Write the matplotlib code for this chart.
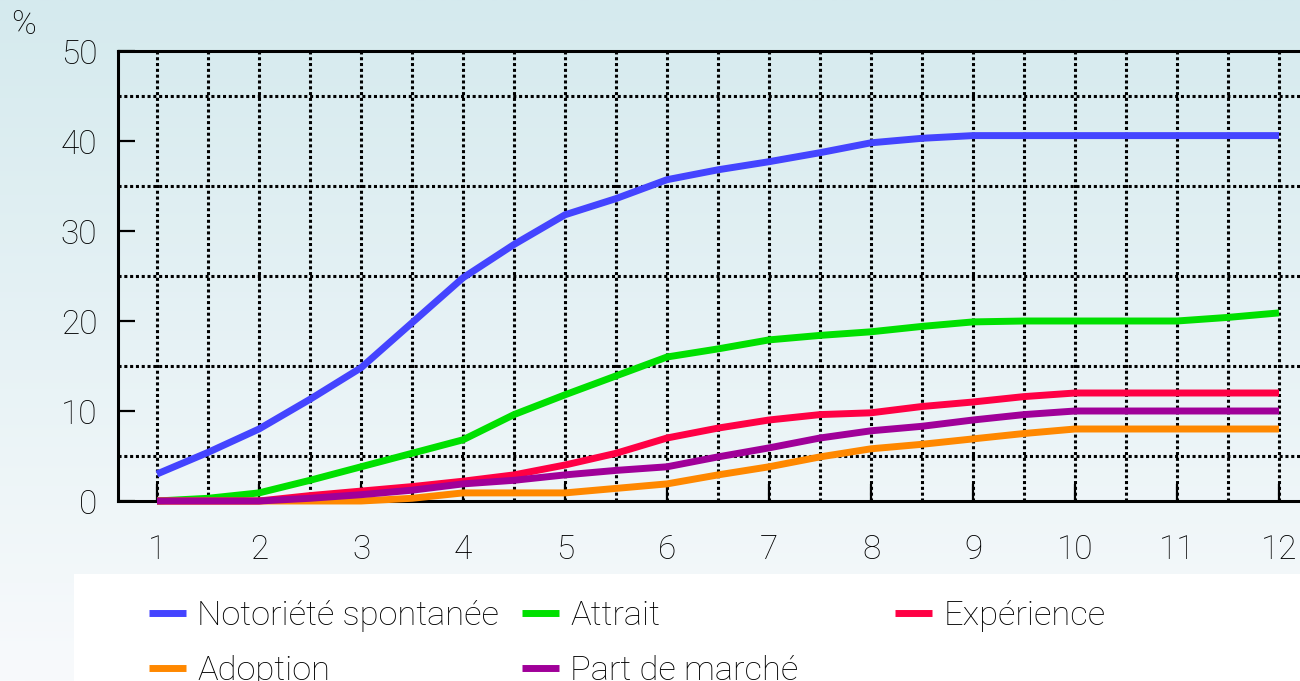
import numpy as np
import matplotlib.pyplot as plt
from matplotlib.patches import Rectangle

plt.rcParams['font.family'] = ['Roboto', 'DejaVu Sans']
plt.rcParams['font.weight'] = 'light'

# mois 1 à 12, relevés tous les demi-mois
mois = [1, 1.5, 2, 2.5, 3, 3.5, 4, 4.5, 5, 5.5, 6, 6.5, 7, 7.5, 8, 8.5,
        9, 9.5, 10, 10.5, 11, 11.5, 12]

notoriete = [3.0, 5.4, 8.0, 11.3, 14.8, 19.8, 24.8, 28.5, 31.8, 33.6, 35.7, 36.8,
             37.7, 38.7, 39.8, 40.3, 40.6, 40.6, 40.6, 40.6, 40.6, 40.6, 40.6]
attrait = [0.0, 0.3, 0.9, 2.3, 3.8, 5.3, 6.8, 9.6, 11.8, 13.9, 16.0, 16.9,
           17.9, 18.4, 18.8, 19.4, 19.9, 20.0, 20.0, 20.0, 20.0, 20.4, 20.9]
experience = [0.0, 0.0, 0.0, 0.6, 1.1, 1.6, 2.2, 2.9, 4.0, 5.3, 7.0, 8.1,
              9.0, 9.6, 9.8, 10.5, 11.0, 11.6, 12.0, 12.0, 12.0, 12.0, 12.0]
adoption = [0.0, 0.0, 0.0, 0.0, 0.0, 0.3, 0.9, 0.9, 0.9, 1.4, 1.9, 2.9,
            3.8, 4.9, 5.8, 6.3, 6.9, 7.5, 8.0, 8.0, 8.0, 8.0, 8.0]
part_marche = [0.0, 0.0, 0.0, 0.3, 0.7, 1.2, 1.9, 2.3, 2.9, 3.4, 3.8, 4.9,
               5.9, 7.0, 7.8, 8.3, 9.0, 9.6, 10.0, 10.0, 10.0, 10.0, 10.0]

series = [
    ('Notoriété spontanée', notoriete, '#4444ff'),
    ('Attrait', attrait, '#00e000'),
    ('Expérience', experience, '#ff0044'),
    ('Adoption', adoption, '#ff8800'),
    ('Part de marché', part_marche, '#a00099'),
]

fig = plt.figure(figsize=(13, 6.81), dpi=100)

# fond en dégradé
bg = fig.add_axes([0, 0, 1, 1], zorder=-2)
grad = np.linspace(0, 1, 256).reshape(-1, 1)
top = np.array([213, 234, 238]) / 255
bottom = np.array([248, 250, 252]) / 255
img = top + (bottom - top) * grad[:, :, None]
bg.imshow(img, aspect='auto', extent=[0, 1, 0, 1])
bg.axis('off')

# cadre blanc de la légende
fig.patches.append(Rectangle((74 / 1300, 0), 1, 1 - 574 / 681,
                             transform=fig.transFigure, facecolor='white',
                             edgecolor='none', zorder=-1))

ax = fig.add_axes([118 / 1300, 1 - 501 / 681, 1 - 118 / 1300, 450 / 681])
ax.set_facecolor('none')

lines = {}
for label, vals, color in series:
    ln, = ax.plot(mois, vals, color=color, lw=5, solid_capstyle='butt',
                  clip_on=False, zorder=3, label=label)
    lines[label] = ln

ax.set_xlim(1 - 39 / 102, 12 + 21 / 102)
ax.set_ylim(0, 50)

ax.set_xticks(range(1, 13))
ax.set_xticks(np.arange(1.5, 12, 1), minor=True)
ax.set_yticks(range(0, 51, 10))
ax.set_yticks(range(5, 50, 10), minor=True)

ax.tick_params(axis='both', which='major', direction='in', length=12,
               width=1.6, color='black', labelsize=24)
ax.tick_params(axis='x', which='major', pad=24)
ax.tick_params(axis='y', which='major', pad=15)
ax.tick_params(which='minor', length=0)

ax.set_axisbelow(True)
dots = dict(color='black', lw=2.2, linestyle=(0, (1, 0.9)))
ax.grid(axis='x', which='both', **dots)
ax.grid(axis='y', which='minor', **dots)
ax.grid(axis='y', which='major', visible=False)

for side in ('left', 'top', 'bottom'):
    ax.spines[side].set_linewidth(2.2)
ax.spines['right'].set_visible(False)

fig.text(11 / 1300, 1 - 9 / 681, '%', fontsize=24, va='top', ha='left')

# légende en trois colonnes
colonnes = [['Notoriété spontanée', 'Adoption'],
            ['Attrait', 'Part de marché'],
            ['Expérience']]
for i, col in enumerate(colonnes):
    x0 = (149 + 373 * i) / 1300
    fig.legend([lines[c] for c in col], col, loc='upper left',
               bbox_to_anchor=(x0, 1 - 600 / 681), frameon=False,
               fontsize=24.8, handlelength=1.08, handletextpad=0.32,
               labelspacing=0.68, borderpad=0, borderaxespad=0)

fig.savefig('out.png', dpi=100)
